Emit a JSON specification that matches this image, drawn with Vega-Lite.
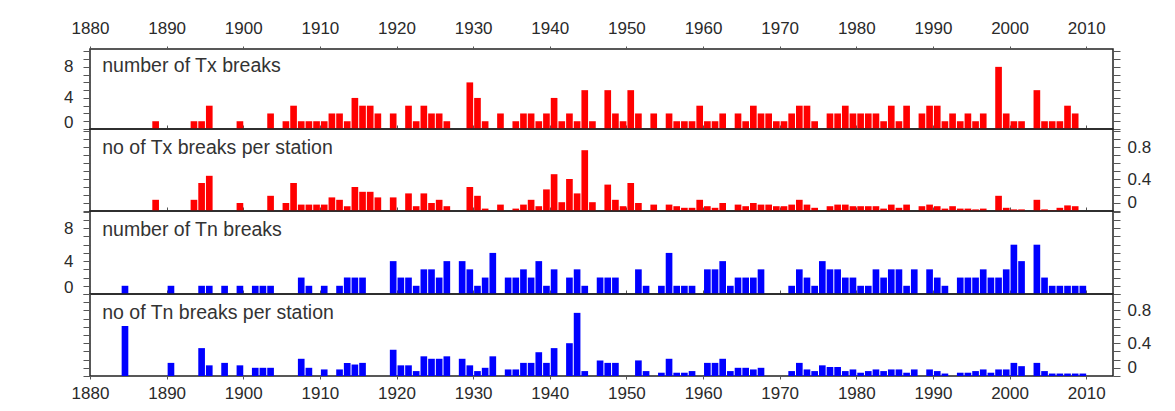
{
  "$schema": "https://vega.github.io/schema/vega-lite/v6.json",
  "background": "#ffffff",
  "padding": {"left": 62, "top": 18, "right": 5, "bottom": 5},
  "config": {
    "view": {"stroke": "#222222", "strokeWidth": 1.5},
    "axis": {"labelFont": "Liberation Sans", "labelFontSize": 17, "labelColor": "#2a2a2a", "tickColor": "#555555", "grid": false, "domain": false, "title": null, "labelOverlap": false, "minExtent": 0, "format": "d"}
  },
  "datasets": {
    "txn": [
      {"year":1888,"n":1},{"year":1893,"n":1},{"year":1894,"n":1},{"year":1895,"n":3},{"year":1899,"n":1},
      {"year":1903,"n":2},{"year":1905,"n":1},{"year":1906,"n":3},{"year":1907,"n":1},{"year":1908,"n":1},{"year":1909,"n":1},
      {"year":1910,"n":1},{"year":1911,"n":2},{"year":1912,"n":2},{"year":1913,"n":1},{"year":1914,"n":4},{"year":1915,"n":3},{"year":1916,"n":3},{"year":1917,"n":2},{"year":1919,"n":2},
      {"year":1921,"n":3},{"year":1922,"n":1},{"year":1923,"n":3},{"year":1924,"n":2},{"year":1925,"n":2},{"year":1926,"n":1},{"year":1929,"n":6},
      {"year":1930,"n":4},{"year":1931,"n":1},{"year":1933,"n":2},{"year":1935,"n":1},{"year":1936,"n":2},{"year":1937,"n":2},{"year":1938,"n":1},{"year":1939,"n":2},
      {"year":1940,"n":4},{"year":1941,"n":1},{"year":1942,"n":2},{"year":1943,"n":1},{"year":1944,"n":5},{"year":1945,"n":1},{"year":1947,"n":5},{"year":1948,"n":2},{"year":1949,"n":1},
      {"year":1950,"n":5},{"year":1951,"n":2},{"year":1953,"n":2},{"year":1955,"n":2},{"year":1956,"n":1},{"year":1957,"n":1},{"year":1958,"n":1},{"year":1959,"n":3},
      {"year":1960,"n":1},{"year":1961,"n":1},{"year":1962,"n":2},{"year":1964,"n":2},{"year":1965,"n":1},{"year":1966,"n":3},{"year":1967,"n":2},{"year":1968,"n":2},{"year":1969,"n":1},
      {"year":1970,"n":1},{"year":1971,"n":2},{"year":1972,"n":3},{"year":1973,"n":3},{"year":1974,"n":1},{"year":1976,"n":2},{"year":1977,"n":2},{"year":1978,"n":3},{"year":1979,"n":2},
      {"year":1980,"n":2},{"year":1981,"n":2},{"year":1982,"n":2},{"year":1983,"n":1},{"year":1984,"n":3},{"year":1985,"n":1},{"year":1986,"n":3},{"year":1988,"n":2},{"year":1989,"n":3},
      {"year":1990,"n":3},{"year":1991,"n":1},{"year":1992,"n":2},{"year":1993,"n":1},{"year":1994,"n":2},{"year":1995,"n":1},{"year":1996,"n":2},{"year":1998,"n":8},{"year":1999,"n":2},
      {"year":2000,"n":1},{"year":2001,"n":1},{"year":2003,"n":5},{"year":2004,"n":1},{"year":2005,"n":1},{"year":2006,"n":1},{"year":2007,"n":3},{"year":2008,"n":2}
    ],
    "txs": [
      {"year":1888,"n":0.14},{"year":1893,"n":0.14},{"year":1894,"n":0.35},{"year":1895,"n":0.44},{"year":1899,"n":0.1},
      {"year":1903,"n":0.19},{"year":1905,"n":0.1},{"year":1906,"n":0.35},{"year":1907,"n":0.08},{"year":1908,"n":0.08},{"year":1909,"n":0.08},
      {"year":1910,"n":0.08},{"year":1911,"n":0.17},{"year":1912,"n":0.14},{"year":1913,"n":0.06},{"year":1914,"n":0.3},{"year":1915,"n":0.24},{"year":1916,"n":0.24},{"year":1917,"n":0.17},{"year":1919,"n":0.17},
      {"year":1921,"n":0.22},{"year":1922,"n":0.06},{"year":1923,"n":0.22},{"year":1924,"n":0.1},{"year":1925,"n":0.14},{"year":1926,"n":0.06},{"year":1929,"n":0.3},
      {"year":1930,"n":0.19},{"year":1931,"n":0.03},{"year":1933,"n":0.08},{"year":1935,"n":0.03},{"year":1936,"n":0.08},{"year":1937,"n":0.14},{"year":1938,"n":0.06},{"year":1939,"n":0.27},
      {"year":1940,"n":0.46},{"year":1941,"n":0.11},{"year":1942,"n":0.4},{"year":1943,"n":0.22},{"year":1944,"n":0.76},{"year":1945,"n":0.11},{"year":1947,"n":0.33},{"year":1948,"n":0.14},{"year":1949,"n":0.06},
      {"year":1950,"n":0.35},{"year":1951,"n":0.1},{"year":1953,"n":0.08},{"year":1955,"n":0.08},{"year":1956,"n":0.06},{"year":1957,"n":0.04},{"year":1958,"n":0.04},{"year":1959,"n":0.14},
      {"year":1960,"n":0.06},{"year":1961,"n":0.04},{"year":1962,"n":0.1},{"year":1964,"n":0.08},{"year":1965,"n":0.06},{"year":1966,"n":0.1},{"year":1967,"n":0.08},{"year":1968,"n":0.08},{"year":1969,"n":0.06},
      {"year":1970,"n":0.06},{"year":1971,"n":0.08},{"year":1972,"n":0.14},{"year":1973,"n":0.08},{"year":1974,"n":0.04},{"year":1976,"n":0.06},{"year":1977,"n":0.08},{"year":1978,"n":0.08},{"year":1979,"n":0.06},
      {"year":1980,"n":0.06},{"year":1981,"n":0.06},{"year":1982,"n":0.06},{"year":1983,"n":0.03},{"year":1984,"n":0.08},{"year":1985,"n":0.04},{"year":1986,"n":0.08},{"year":1988,"n":0.06},{"year":1989,"n":0.08},
      {"year":1990,"n":0.06},{"year":1991,"n":0.03},{"year":1992,"n":0.06},{"year":1993,"n":0.03},{"year":1994,"n":0.03},{"year":1995,"n":0.02},{"year":1996,"n":0.03},{"year":1998,"n":0.19},{"year":1999,"n":0.04},
      {"year":2000,"n":0.02},{"year":2001,"n":0.02},{"year":2003,"n":0.14},{"year":2004,"n":0.02},{"year":2005,"n":0.01},{"year":2006,"n":0.04},{"year":2007,"n":0.07},{"year":2008,"n":0.06}
    ],
    "tnn": [
      {"year":1884,"n":1},{"year":1890,"n":1},{"year":1894,"n":1},{"year":1895,"n":1},{"year":1897,"n":1},{"year":1899,"n":1},
      {"year":1901,"n":1},{"year":1902,"n":1},{"year":1903,"n":1},{"year":1907,"n":2},{"year":1908,"n":1},
      {"year":1910,"n":1},{"year":1912,"n":1},{"year":1913,"n":2},{"year":1914,"n":2},{"year":1915,"n":2},{"year":1919,"n":4},
      {"year":1920,"n":2},{"year":1921,"n":2},{"year":1922,"n":1},{"year":1923,"n":3},{"year":1924,"n":3},{"year":1925,"n":2},{"year":1926,"n":4},{"year":1928,"n":4},{"year":1929,"n":3},
      {"year":1930,"n":1},{"year":1931,"n":2},{"year":1932,"n":5},{"year":1934,"n":2},{"year":1935,"n":2},{"year":1936,"n":3},{"year":1937,"n":2},{"year":1938,"n":4},{"year":1939,"n":1},
      {"year":1940,"n":3},{"year":1942,"n":2},{"year":1943,"n":3},{"year":1944,"n":1},{"year":1946,"n":2},{"year":1947,"n":2},{"year":1948,"n":2},
      {"year":1951,"n":3},{"year":1952,"n":1},{"year":1954,"n":1},{"year":1955,"n":5},{"year":1956,"n":1},{"year":1957,"n":1},{"year":1958,"n":1},
      {"year":1960,"n":3},{"year":1961,"n":3},{"year":1962,"n":4},{"year":1963,"n":1},{"year":1964,"n":2},{"year":1965,"n":2},{"year":1966,"n":2},{"year":1967,"n":3},
      {"year":1971,"n":1},{"year":1972,"n":3},{"year":1973,"n":2},{"year":1974,"n":1},{"year":1975,"n":4},{"year":1976,"n":3},{"year":1977,"n":3},{"year":1978,"n":2},{"year":1979,"n":2},
      {"year":1980,"n":1},{"year":1981,"n":1},{"year":1982,"n":3},{"year":1983,"n":2},{"year":1984,"n":3},{"year":1985,"n":3},{"year":1986,"n":1},{"year":1987,"n":3},{"year":1989,"n":3},
      {"year":1990,"n":2},{"year":1991,"n":1},{"year":1993,"n":2},{"year":1994,"n":2},{"year":1995,"n":2},{"year":1996,"n":3},{"year":1997,"n":2},{"year":1998,"n":2},{"year":1999,"n":3},
      {"year":2000,"n":6},{"year":2001,"n":4},{"year":2003,"n":6},{"year":2004,"n":2},{"year":2005,"n":1},{"year":2006,"n":1},{"year":2007,"n":1},{"year":2008,"n":1},{"year":2009,"n":1}
    ],
    "tns": [
      {"year":1884,"n":0.61},{"year":1890,"n":0.16},{"year":1894,"n":0.34},{"year":1895,"n":0.13},{"year":1897,"n":0.16},{"year":1899,"n":0.13},
      {"year":1901,"n":0.1},{"year":1902,"n":0.1},{"year":1903,"n":0.1},{"year":1907,"n":0.21},{"year":1908,"n":0.1},
      {"year":1910,"n":0.08},{"year":1912,"n":0.08},{"year":1913,"n":0.16},{"year":1914,"n":0.14},{"year":1915,"n":0.16},{"year":1919,"n":0.32},
      {"year":1920,"n":0.13},{"year":1921,"n":0.13},{"year":1922,"n":0.06},{"year":1923,"n":0.24},{"year":1924,"n":0.21},{"year":1925,"n":0.21},{"year":1926,"n":0.24},{"year":1928,"n":0.21},{"year":1929,"n":0.13},
      {"year":1930,"n":0.06},{"year":1931,"n":0.1},{"year":1932,"n":0.24},{"year":1934,"n":0.08},{"year":1935,"n":0.08},{"year":1936,"n":0.16},{"year":1937,"n":0.16},{"year":1938,"n":0.29},{"year":1939,"n":0.16},
      {"year":1940,"n":0.34},{"year":1942,"n":0.4},{"year":1943,"n":0.77},{"year":1944,"n":0.06},{"year":1946,"n":0.19},{"year":1947,"n":0.16},{"year":1948,"n":0.16},
      {"year":1951,"n":0.19},{"year":1952,"n":0.06},{"year":1954,"n":0.04},{"year":1955,"n":0.21},{"year":1956,"n":0.04},{"year":1957,"n":0.04},{"year":1958,"n":0.06},
      {"year":1960,"n":0.16},{"year":1961,"n":0.16},{"year":1962,"n":0.21},{"year":1963,"n":0.06},{"year":1964,"n":0.1},{"year":1965,"n":0.1},{"year":1966,"n":0.08},{"year":1967,"n":0.1},
      {"year":1971,"n":0.06},{"year":1972,"n":0.16},{"year":1973,"n":0.08},{"year":1974,"n":0.06},{"year":1975,"n":0.13},{"year":1976,"n":0.11},{"year":1977,"n":0.11},{"year":1978,"n":0.06},{"year":1979,"n":0.08},
      {"year":1980,"n":0.04},{"year":1981,"n":0.06},{"year":1982,"n":0.08},{"year":1983,"n":0.06},{"year":1984,"n":0.08},{"year":1985,"n":0.08},{"year":1986,"n":0.04},{"year":1987,"n":0.08},{"year":1989,"n":0.08},
      {"year":1990,"n":0.06},{"year":1991,"n":0.03},{"year":1993,"n":0.04},{"year":1994,"n":0.04},{"year":1995,"n":0.06},{"year":1996,"n":0.08},{"year":1997,"n":0.04},{"year":1998,"n":0.08},{"year":1999,"n":0.08},
      {"year":2000,"n":0.16},{"year":2001,"n":0.12},{"year":2003,"n":0.16},{"year":2004,"n":0.06},{"year":2005,"n":0.03},{"year":2006,"n":0.03},{"year":2007,"n":0.03},{"year":2008,"n":0.03},{"year":2009,"n":0.03}
    ]
  },
  "vconcat": [
    {
      "width": 1023, "height": 80,
      "data": {"name": "txn"},
      "layer": [
        {"mark": {"type": "bar", "color": "#ff0000", "binSpacing": 1},
         "encoding": {
           "x": {"field": "year", "type": "quantitative", "bin": {"step": 1, "extent": [1880, 2014]}, "scale": {"domain": [1880, 2013.5], "nice": false, "zero": false},
                 "axis": {"orient": "top", "values": [1880,1890,1900,1910,1920,1930,1940,1950,1960,1970,1980,1990,2000,2010], "labelFlush": false, "tickSize": 3, "labelPadding": 9}},
           "y": {"field": "n", "type": "quantitative", "scale": {"domain": [0, 10.3], "nice": false},
                 "axis": {"orient": "left", "values": [0,1,2,3,4,5,6,7,8,9,10], "labelExpr": "datum.value % 4 === 0 ? datum.label : ''", "tickSize": 7, "labelPadding": 10, "labelFlush": true, "labelFlushOffset": 2}}
         }},
        {"mark": {"type": "bar", "opacity": 0},
         "encoding": {
           "x": {"field": "year", "type": "quantitative", "bin": {"step": 1, "extent": [1880, 2014]}, "scale": {"domain": [1880, 2013.5], "nice": false, "zero": false},
                 "axis": {"orient": "bottom", "values": [1880,1890,1900,1910,1920,1930,1940,1950,1960,1970,1980,1990,2000,2010], "labels": false, "tickSize": -4}},
           "y": {"field": "n", "type": "quantitative", "scale": {"domain": [0, 10.3], "nice": false},
                 "axis": {"orient": "right", "values": [0,1,2,3,4,5,6,7,8,9,10], "labels": false, "tickSize": 7}}
         }},
        {"data": {"values": [{"label": "number of Tx breaks"}]},
         "mark": {"type": "text", "align": "left", "baseline": "alphabetic", "font": "Liberation Sans", "fontSize": 19.5, "color": "#333333"},
         "encoding": {"x": {"datum": 1881.6, "type": "quantitative", "axis": null}, "y": {"datum": 7.35, "type": "quantitative", "axis": null}, "text": {"field": "label"}}}
      ],
      "resolve": {"axis": {"x": "independent", "y": "independent"}}
    },
    {
      "width": 1023, "height": 82,
      "data": {"name": "txs"},
      "layer": [
        {"mark": {"type": "bar", "color": "#ff0000", "binSpacing": 1},
         "encoding": {
           "x": {"field": "year", "type": "quantitative", "bin": {"step": 1, "extent": [1880, 2014]}, "scale": {"domain": [1880, 2013.5], "nice": false, "zero": false},
                 "axis": {"orient": "bottom", "values": [1880,1890,1900,1910,1920,1930,1940,1950,1960,1970,1980,1990,2000,2010], "labels": false, "tickSize": -4}},
           "y": {"field": "n", "type": "quantitative", "scale": {"domain": [0, 1.025], "nice": false},
                 "axis": {"orient": "right", "values": [0,0.1,0.2,0.3,0.4,0.5,0.6,0.7,0.8,0.9,1.0], "format": ".1~f", "labelExpr": "datum.value === 0 ? '0' : (abs(datum.value - 0.4) < 0.001 || abs(datum.value - 0.8) < 0.001) ? datum.label : ''", "tickSize": 7, "labelPadding": 7, "labelFlush": true}}
         }},
        {"mark": {"type": "bar", "opacity": 0},
         "encoding": {
           "x": {"field": "year", "type": "quantitative", "bin": {"step": 1, "extent": [1880, 2014]}, "scale": {"domain": [1880, 2013.5], "nice": false, "zero": false}, "axis": null},
           "y": {"field": "n", "type": "quantitative", "scale": {"domain": [0, 1.025], "nice": false},
                 "axis": {"orient": "left", "values": [0,0.1,0.2,0.3,0.4,0.5,0.6,0.7,0.8,0.9,1.0], "labels": false, "tickSize": 7}}
         }},
        {"data": {"values": [{"label": "no of Tx breaks per station"}]},
         "mark": {"type": "text", "align": "left", "baseline": "alphabetic", "font": "Liberation Sans", "fontSize": 19.5, "color": "#333333"},
         "encoding": {"x": {"datum": 1881.6, "type": "quantitative", "axis": null}, "y": {"datum": 0.71, "type": "quantitative", "axis": null}, "text": {"field": "label"}}}
      ],
      "resolve": {"axis": {"x": "independent", "y": "independent"}}
    },
    {
      "width": 1023, "height": 83,
      "data": {"name": "tnn"},
      "layer": [
        {"mark": {"type": "bar", "color": "#0000ff", "binSpacing": 1},
         "encoding": {
           "x": {"field": "year", "type": "quantitative", "bin": {"step": 1, "extent": [1880, 2014]}, "scale": {"domain": [1880, 2013.5], "nice": false, "zero": false},
                 "axis": {"orient": "bottom", "values": [1880,1890,1900,1910,1920,1930,1940,1950,1960,1970,1980,1990,2000,2010], "labels": false, "tickSize": -4}},
           "y": {"field": "n", "type": "quantitative", "scale": {"domain": [0, 10.1], "nice": false},
                 "axis": {"orient": "left", "values": [0,1,2,3,4,5,6,7,8,9,10], "labelExpr": "datum.value % 4 === 0 ? datum.label : ''", "tickSize": 7, "labelPadding": 10, "labelFlush": true, "labelFlushOffset": 2}}
         }},
        {"mark": {"type": "bar", "opacity": 0},
         "encoding": {
           "x": {"field": "year", "type": "quantitative", "bin": {"step": 1, "extent": [1880, 2014]}, "scale": {"domain": [1880, 2013.5], "nice": false, "zero": false}, "axis": null},
           "y": {"field": "n", "type": "quantitative", "scale": {"domain": [0, 10.1], "nice": false},
                 "axis": {"orient": "right", "values": [0,1,2,3,4,5,6,7,8,9,10], "labels": false, "tickSize": 7}}
         }},
        {"data": {"values": [{"label": "number of Tn breaks"}]},
         "mark": {"type": "text", "align": "left", "baseline": "alphabetic", "font": "Liberation Sans", "fontSize": 19.5, "color": "#333333"},
         "encoding": {"x": {"datum": 1881.6, "type": "quantitative", "axis": null}, "y": {"datum": 7.06, "type": "quantitative", "axis": null}, "text": {"field": "label"}}}
      ],
      "resolve": {"axis": {"x": "independent", "y": "independent"}}
    },
    {
      "width": 1023, "height": 82,
      "data": {"name": "tns"},
      "layer": [
        {"mark": {"type": "bar", "color": "#0000ff", "binSpacing": 1},
         "encoding": {
           "x": {"field": "year", "type": "quantitative", "bin": {"step": 1, "extent": [1880, 2014]}, "scale": {"domain": [1880, 2013.5], "nice": false, "zero": false},
                 "axis": {"orient": "bottom", "values": [1880,1890,1900,1910,1920,1930,1940,1950,1960,1970,1980,1990,2000,2010], "labelFlush": false, "tickSize": 3, "labelPadding": 6}},
           "y": {"field": "n", "type": "quantitative", "scale": {"domain": [0, 1.0], "nice": false},
                 "axis": {"orient": "right", "values": [0,0.1,0.2,0.3,0.4,0.5,0.6,0.7,0.8,0.9,1.0], "format": ".1~f", "labelExpr": "datum.value === 0 ? '0' : (abs(datum.value - 0.4) < 0.001 || abs(datum.value - 0.8) < 0.001) ? datum.label : ''", "tickSize": 7, "labelPadding": 7, "labelFlush": true}}
         }},
        {"mark": {"type": "bar", "opacity": 0},
         "encoding": {
           "x": {"field": "year", "type": "quantitative", "bin": {"step": 1, "extent": [1880, 2014]}, "scale": {"domain": [1880, 2013.5], "nice": false, "zero": false}, "axis": null},
           "y": {"field": "n", "type": "quantitative", "scale": {"domain": [0, 1.0], "nice": false},
                 "axis": {"orient": "left", "values": [0,0.1,0.2,0.3,0.4,0.5,0.6,0.7,0.8,0.9,1.0], "labels": false, "tickSize": 7}}
         }},
        {"data": {"values": [{"label": "no of Tn breaks per station"}]},
         "mark": {"type": "text", "align": "left", "baseline": "alphabetic", "font": "Liberation Sans", "fontSize": 19.5, "color": "#333333"},
         "encoding": {"x": {"datum": 1881.6, "type": "quantitative", "axis": null}, "y": {"datum": 0.695, "type": "quantitative", "axis": null}, "text": {"field": "label"}}}
      ],
      "resolve": {"axis": {"x": "independent", "y": "independent"}}
    }
  ],
  "spacing": 0,
  "bounds": "flush"
}
